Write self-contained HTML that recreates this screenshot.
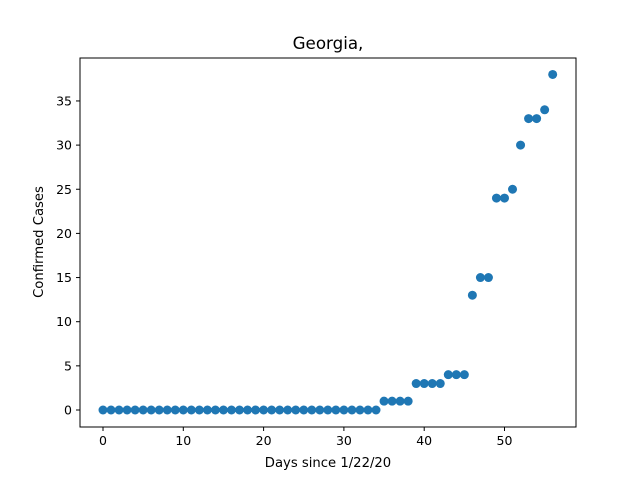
<!DOCTYPE html>
<html><head><meta charset="utf-8"><style>
body{margin:0;background:#fff;}
svg{display:block;font-family:"DejaVu Sans","Liberation Sans",sans-serif;}
</style></head><body>
<svg id="chart" width="640" height="480">
<rect width="640" height="480" fill="#fff"/>
<text x="328" y="49" font-size="16.7" text-anchor="middle">Georgia,</text>
<g id="axes"></g>
<g id="points"></g>
<rect x="80" y="58" width="496" height="369" fill="none" stroke="#000" stroke-width="1"/>
<text x="328" y="467" font-size="13.2" text-anchor="middle">Days since 1/22/20</text>
<text transform="translate(43,242) rotate(-90)" font-size="13.2" text-anchor="middle">Confirmed Cases</text>
</svg>
<script>
const days = [];
for (let i = 0; i <= 56; i++) days.push(i);
const cases = [0,0,0,0,0,0,0,0,0,0,0,0,0,0,0,0,0,0,0,0,0,0,0,0,0,0,0,0,0,0,0,0,0,0,0,1,1,1,1,3,3,3,3,4,4,4,13,15,15,24,24,25,30,33,33,34,38];
const xTicks = [0,10,20,30,40,50];
const yTicks = [0,5,10,15,20,25,30,35];
const NS = "http://www.w3.org/2000/svg";
const xs = v => 103 + v * 8.03;
const ys = v => 410 - v * 8.83;
const axes = document.getElementById('axes');
const pts = document.getElementById('points');
function mk(tag, attrs, parent){const e=document.createElementNS(NS,tag);for(const k in attrs)e.setAttribute(k,attrs[k]);parent.appendChild(e);return e;}
xTicks.forEach(t=>{
  const l=mk('line',{x1:xs(t),x2:xs(t),y1:427,y2:431,stroke:'#000'},axes);
  
  
  const tx=mk('text',{x:xs(t),y:445,'font-size':12.5,'text-anchor':'middle'},axes);
  tx.textContent=t;
  
  
});
yTicks.forEach(t=>{
  const l=mk('line',{x1:76,x2:80,y1:ys(t),y2:ys(t),stroke:'#000'},axes);
  
  
  const tx=mk('text',{x:72,y:ys(t)+4.5,'font-size':12.5,'text-anchor':'end'},axes);
  tx.textContent=t;
  
  
});
days.forEach((d,i)=>{
  const c=mk('circle',{cx:xs(d),cy:ys(cases[i]),r:4.5,fill:'#1f77b4'},pts);
  
  
});
</script>
</body></html>
